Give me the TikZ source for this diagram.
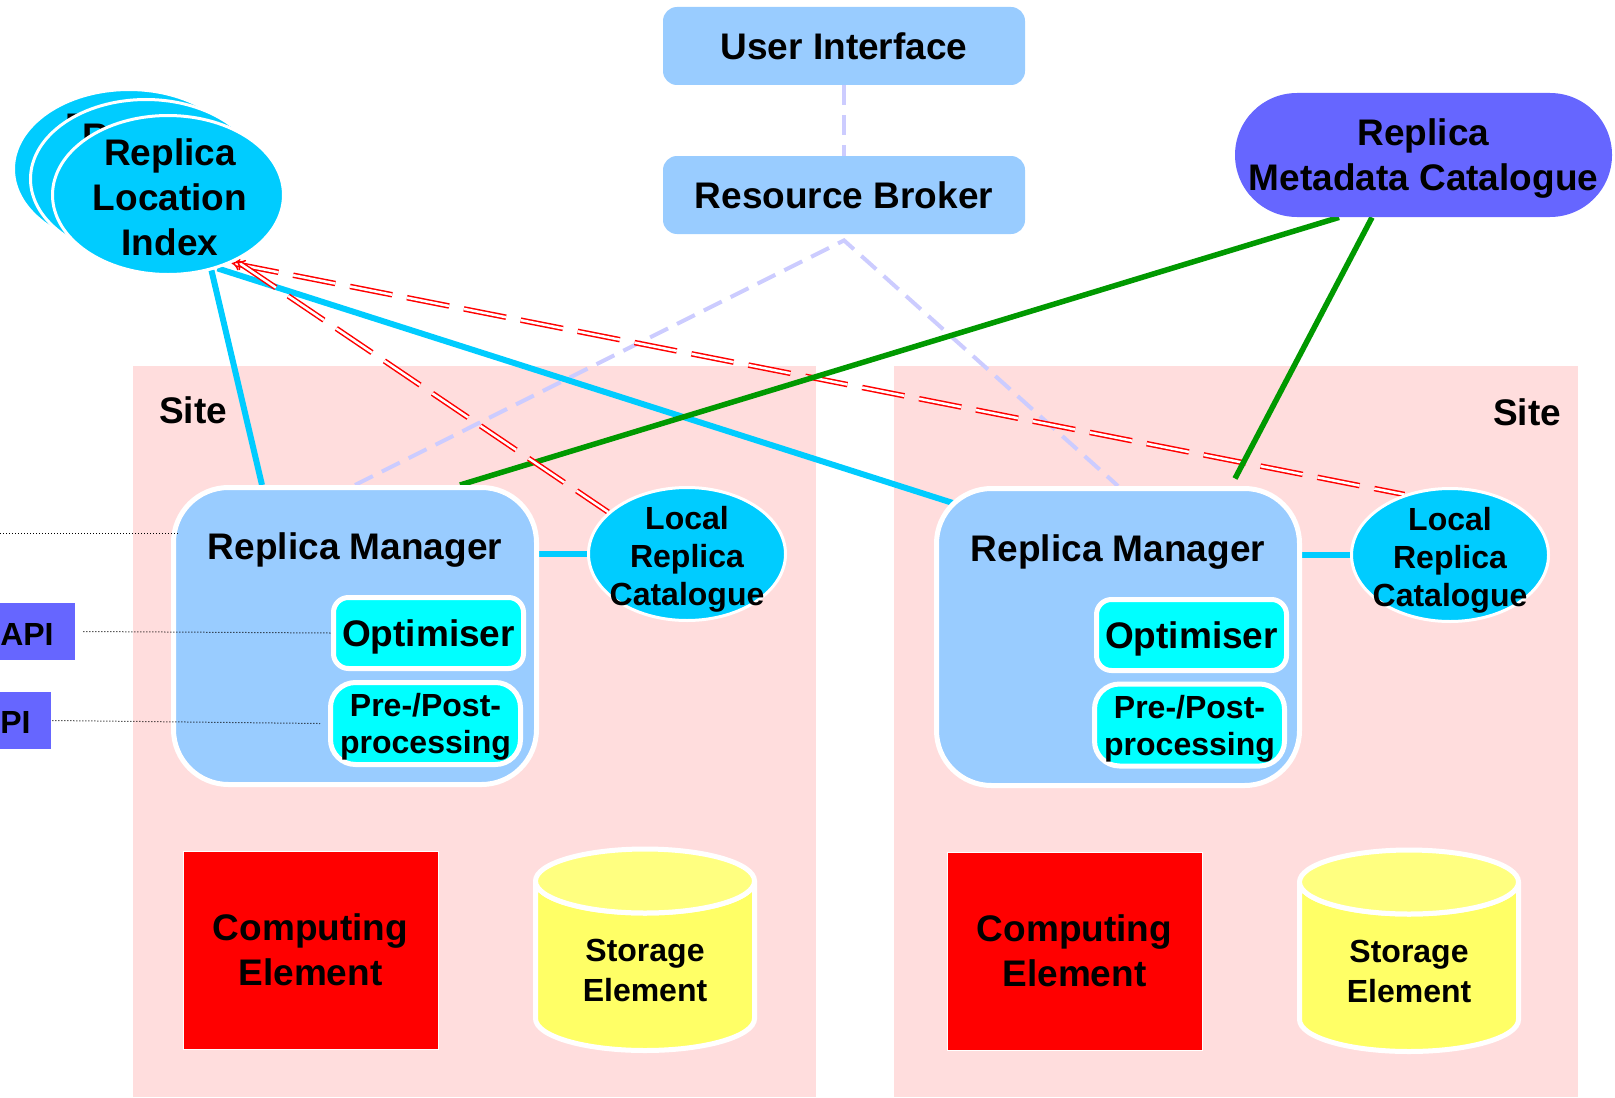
\documentclass[tikz,border=0pt]{standalone}
\usepackage{fontspec}
\setmainfont{Liberation Sans}
\usetikzlibrary{shapes.geometric,arrows.meta}

\definecolor{sitepink}{HTML}{FFDDDD}
\definecolor{boxblue}{HTML}{99CCFF}
\definecolor{skycyan}{HTML}{00CCFF}
\definecolor{optcyan}{HTML}{00FFFF}
\definecolor{catpurple}{HTML}{6666FF}
\definecolor{linkgreen}{HTML}{009900}
\definecolor{lavender}{HTML}{CCCCFF}
\definecolor{sebody}{HTML}{FFFF66}
\definecolor{setop}{HTML}{FFFF80}

\pgfdeclarelayer{bg}
\pgfdeclarelayer{links}
\pgfsetlayers{bg,links,main}

\tikzset{
  big/.style={font=\fontsize{18.5}{22.5}\selectfont\bfseries, align=center, text=black},
  small/.style={font=\fontsize{16}{19}\selectfont\bfseries, align=center, text=black},
  site/.style={fill=sitepink, draw=none, inner sep=0pt},
  bluebox/.style={big, fill=boxblue, rounded corners=7pt, minimum width=181pt, minimum height=39pt, inner sep=0pt},
  catbox/.style={big, fill=catpurple, rounded corners=31pt, minimum width=188.5pt, minimum height=62pt, inner sep=0pt, text depth=0pt},
  rliell/.style={ellipse, fill=skycyan, draw=white, line width=1.5pt, minimum width=115.5pt, minimum height=79.5pt, inner sep=0pt},
  rmbox/.style={fill=boxblue, draw=white, line width=2.5pt, rounded corners=27.5pt, minimum width=181.5pt, minimum height=148.5pt, inner sep=0pt},
  optbox/.style={big, fill=optcyan, draw=white, line width=2.5pt, rounded corners=7.5pt, minimum width=95pt, minimum height=35.5pt, inner sep=0pt, text height=13.9pt, text depth=0pt},
  prebox/.style={small, font=\fontsize{16}{18.5}\selectfont\bfseries, fill=optcyan, draw=white, line width=2.5pt, rounded corners=12.5pt, minimum width=95pt, minimum height=41pt, inner sep=0pt, text depth=0pt},
  lrcell/.style={ellipse, fill=skycyan, draw=white, line width=1.5pt, minimum width=98.5pt, minimum height=66.5pt, inner sep=0pt},
  cebox/.style={big, fill=red, draw=white, line width=0.5pt, minimum width=127.5pt, minimum height=99pt, inner sep=0pt},
  setext/.style={small, font=\fontsize{16}{20}\selectfont\bfseries, inner sep=0pt},
  apibox/.style={fill=catpurple, minimum height=28.5pt, inner sep=0pt},
  apitext/.style={small, inner sep=0pt, anchor=base east},
  lavline/.style={draw=lavender, line width=2pt, dash pattern=on 10pt off 5pt},
  cyanline/.style={draw=skycyan, line width=3pt},
  greenline/.style={draw=linkgreen, line width=2.75pt},
  redline/.style={draw=red, line width=0.75pt, double=white, double distance=1.25pt, dash pattern=on 21.5pt off 7.5pt, arrows={Implies-}},
  dotline/.style={draw=black, line width=0.5pt, dash pattern=on 0.5pt off 1pt},
  pics/storage/.style={code={
    \filldraw[fill=sebody, draw=white, line width=2.5pt]
      (-109.5,0) -- (-109.5,137.5)
      arc[start angle=180, end angle=360, x radius=54.75pt, y radius=16pt]
      -- (109.5,0)
      arc[start angle=0, end angle=-180, x radius=54.75pt, y radius=16pt] -- cycle;
    \filldraw[fill=setop, draw=white, line width=2.5pt]
      (0,0) ellipse[x radius=54.75pt, y radius=16pt];
  }}
}

\begin{document}
\begin{tikzpicture}[x=0.5pt,y=-0.5pt]
\useasboundingbox (0,0) rectangle (1615,1097);
\clip (0,0) rectangle (1615,1097);

% the two sites
\begin{pgfonlayer}{bg}
  \node[site, minimum width=341.5pt, minimum height=365.5pt] (siteL) at (474.5,731.5) {};
  \node[site, minimum width=342pt, minimum height=365.5pt] (siteR) at (1236,731.5) {};
\end{pgfonlayer}
\node[big] (siteLt) at (193,410) {Site};
\node[big] (siteRt) at (1527,412) {Site};

% grid services
\node[bluebox] (ui) at (844,46) {User Interface};
\node[bluebox] (rb) at (844,195) {Resource Broker};
\node[catbox] (rmc) at (1423.5,155) {Replica\\Metadata Catalogue};

% stacked replica location indices
\node[rliell] (rli3) at (129,169) {};
\node[big] (rli3t) at (131,171) {Replica\\Location\\Index};
\node[rliell] (rli2) at (146,179) {};
\node[big] (rli2t) at (148,181) {Replica\\Location\\Index};
\node[rliell] (rli) at (168,195) {};
\node[big] (rlit) at (170,197) {Replica\\Location\\Index};

% left site
\node[rmbox] (rmL) at (355,636) {};
\node[big] (rmLt) at (355,550) {Replica Manager};
\node[optbox] (optL) at (428.5,633) {Optimiser};
\node[prebox] (preL) at (425.5,723.5) {Pre-/Post-\\processing};
\node[lrcell] (lrcL) at (687,554) {};
\node[small] (lrcLt) at (687,559) {Local\\Replica\\Catalogue};
\node[cebox] (ceL) at (310.5,950) {Computing\\Element};
\pic at (645,881) {storage};
\node[setext] (seL) at (645,970) {Storage\\Element};

% right site
\node[rmbox] (rmR) at (1118,637) {};
\node[big] (rmRt) at (1118,552) {Replica Manager};
\node[optbox] (optR) at (1191.5,635) {Optimiser};
\node[prebox] (preR) at (1189.5,725) {Pre-/Post-\\processing};
\node[lrcell] (lrcR) at (1450,555) {};
\node[small] (lrcRt) at (1450,560) {Local\\Replica\\Catalogue};
\node[cebox] (ceR) at (1074.5,951) {Computing\\Element};
\pic at (1409,882) {storage};
\node[setext] (seR) at (1409,971) {Storage\\Element};

% API boxes on the left edge
\node[apibox, minimum width=47.5pt] (api1) at (27.5,631.5) {};
\node[apitext] (api1t) at (54,645) {API};
\node[apibox, minimum width=35.5pt] (api2) at (15.5,720.5) {};
\node[apitext] (api2t) at (31,733) {API};

% dotted interface lines
\coordinate (dl) at (0,533);
\draw[dotline] (dl) -- ([xshift=3.25pt]dl -| rmL.west);
\draw[dotline] ([xshift=4pt]api1.east) -- (optL.west);
\draw[dotline] ([xshift=0.5pt]api2.east) -- ([xshift=-4pt]preL.west);

% connectors, drawn beneath the nodes
\begin{pgfonlayer}{links}
  \draw[lavline] (ui.south) -- (rb.north);
  \draw[lavline] (rmL.north) -- ([yshift=-3pt]rb.south) -- (rmR.north);
  \draw[cyanline] (rli.-60) -- ([xshift=-46.5pt]rmL.north);
  \draw[cyanline] (rli.-56) -- ([xshift=11pt,yshift=-9pt]rmR.north west);
  \draw[cyanline] (rmL.east |- lrcL.west) -- (lrcL.west);
  \draw[cyanline] (rmR.east |- lrcR.west) -- (lrcR.west);
  \draw[redline] (rli.-47) -- (lrcR.127);
  \draw[greenline] ([xshift=-42.25pt]rmc.south) -- ([xshift=52.5pt]rmL.north);
  \draw[greenline] ([xshift=-25.75pt]rmc.south) -- ([xshift=58.5pt,yshift=3.75pt]rmR.north);
  \draw[redline] (rli.-44) -- (lrcL.152);
\end{pgfonlayer}
\end{tikzpicture}
\end{document}
